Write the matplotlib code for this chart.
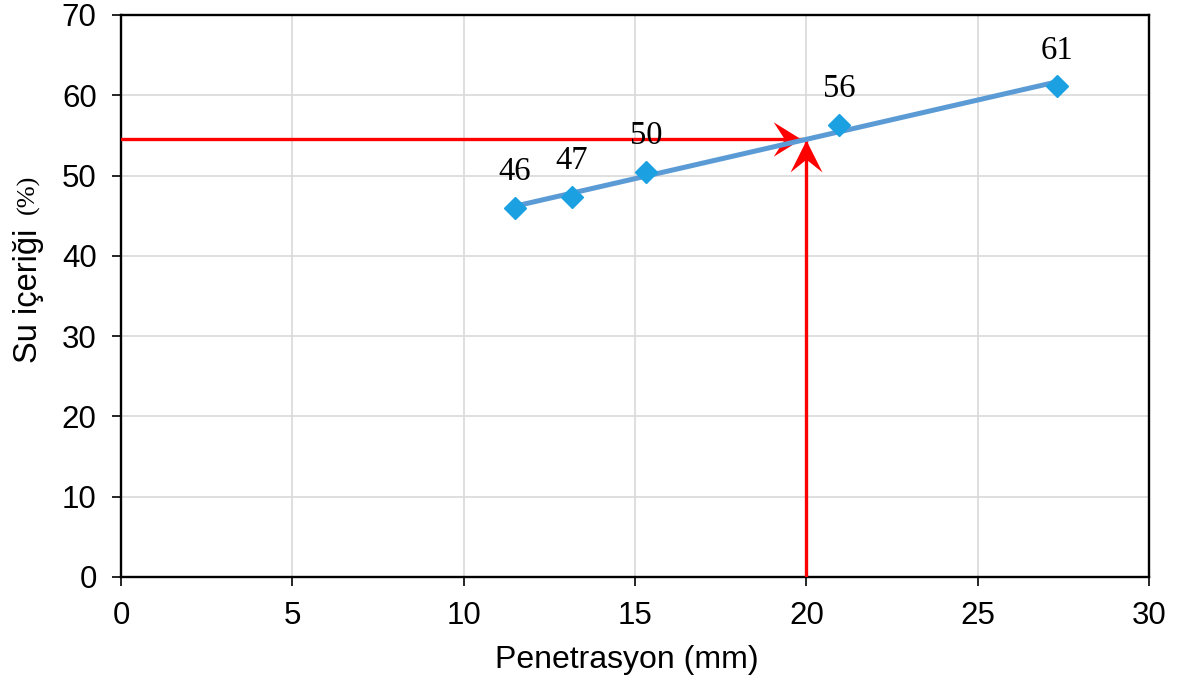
import numpy as np
import matplotlib
matplotlib.use("Agg")
import matplotlib.pyplot as plt
from matplotlib.path import Path

# Penetration test readings
penetration_mm = [11.5, 13.16, 15.32, 20.95, 27.31]
water_content = [45.95, 47.3, 50.4, 56.3, 61.1]
point_labels = ["46", "47", "50", "56", "61"]
target_penetration = 20.0

x_ticks = [0, 5, 10, 15, 20, 25, 30]
y_ticks = [0, 10, 20, 30, 40, 50, 60, 70]

SANS = "Liberation Sans"
SERIF = "Liberation Serif"

fig = plt.figure(figsize=(11.79, 6.88), dpi=100)
ax = fig.add_axes([121 / 1179, 1 - 577 / 688, (1149 - 121) / 1179, (577 - 15) / 688])

# linear trend of water content against penetration
slope, intercept = np.polyfit(penetration_mm, water_content, 1)
x_fit = np.array([min(penetration_mm), max(penetration_mm)])
ax.plot(x_fit, slope * x_fit + intercept, color="#5B9BD5", lw=3.6, zorder=4,
        solid_capstyle="round")

ax.plot(penetration_mm, water_content, linestyle="none", marker="D", ms=11,
        color="#1BA1E2", markeredgecolor="#1BA1E2", zorder=5)

for x, y, t in zip(penetration_mm, water_content, point_labels):
    ax.annotate(t, (x, y), xytext=(0, 26), textcoords="offset points",
                ha="center", va="center", fontsize=23.5, family=SERIF, color="black",
                zorder=6)

# water content read at the target penetration
w_target = slope * target_penetration + intercept
ax.plot([0, target_penetration], [w_target, w_target], color="red", lw=2.4, zorder=3)
ax.plot([target_penetration, target_penetration], [0, w_target], color="red", lw=2.4,
        zorder=3)

# notched arrow heads (tip at the marker origin)
head_right = Path([(0, 0), (-1.0, 0.62), (-0.6, 0), (-1.0, -0.62), (0, 0)],
                  [Path.MOVETO, Path.LINETO, Path.LINETO, Path.LINETO, Path.CLOSEPOLY])
head_up = Path([(0, 0), (0.5, -1.0), (0, -0.6), (-0.5, -1.0), (0, 0)],
               [Path.MOVETO, Path.LINETO, Path.LINETO, Path.LINETO, Path.CLOSEPOLY])
ax.plot([target_penetration - 0.15], [w_target], marker=head_right, ms=40,
        color="red", mec="red", mew=0, zorder=3)
ax.plot([target_penetration], [w_target - 0.1], marker=head_up, ms=46,
        color="red", mec="red", mew=0, zorder=3)

ax.set_xlim(0, 30)
ax.set_ylim(0, 70)
ax.set_xticks(x_ticks)
ax.set_yticks(y_ticks)
ax.grid(True, color="#D9D9D9", lw=1.2, zorder=0)
ax.set_axisbelow(True)

for s in ax.spines.values():
    s.set_color("black")
    s.set_linewidth(1.7)
ax.tick_params(axis="both", direction="out", length=6.5, width=1.2, pad=11,
               labelsize=22.5, colors="black")
for lbl in ax.get_xticklabels() + ax.get_yticklabels():
    lbl.set_family(SANS)

ax.set_xlabel("Penetrasyon (mm)", fontsize=23, family=SANS)
ax.xaxis.set_label_coords((627 - 121) / 1028, -(660 - 577) / 562)
ax.xaxis.label.set_va("center")

# y-axis title: sans text with a smaller serif unit
fig.text(28 / 1179, 1 - 296 / 688, "Su içeriği", rotation=90, ha="center", va="center",
         fontsize=23.5, family=SANS)
fig.text(28 / 1179, 1 - 194 / 688, "(%)", rotation=90, ha="center", va="center",
         fontsize=19, family=SERIF)

fig.savefig("out.png", dpi=100)
